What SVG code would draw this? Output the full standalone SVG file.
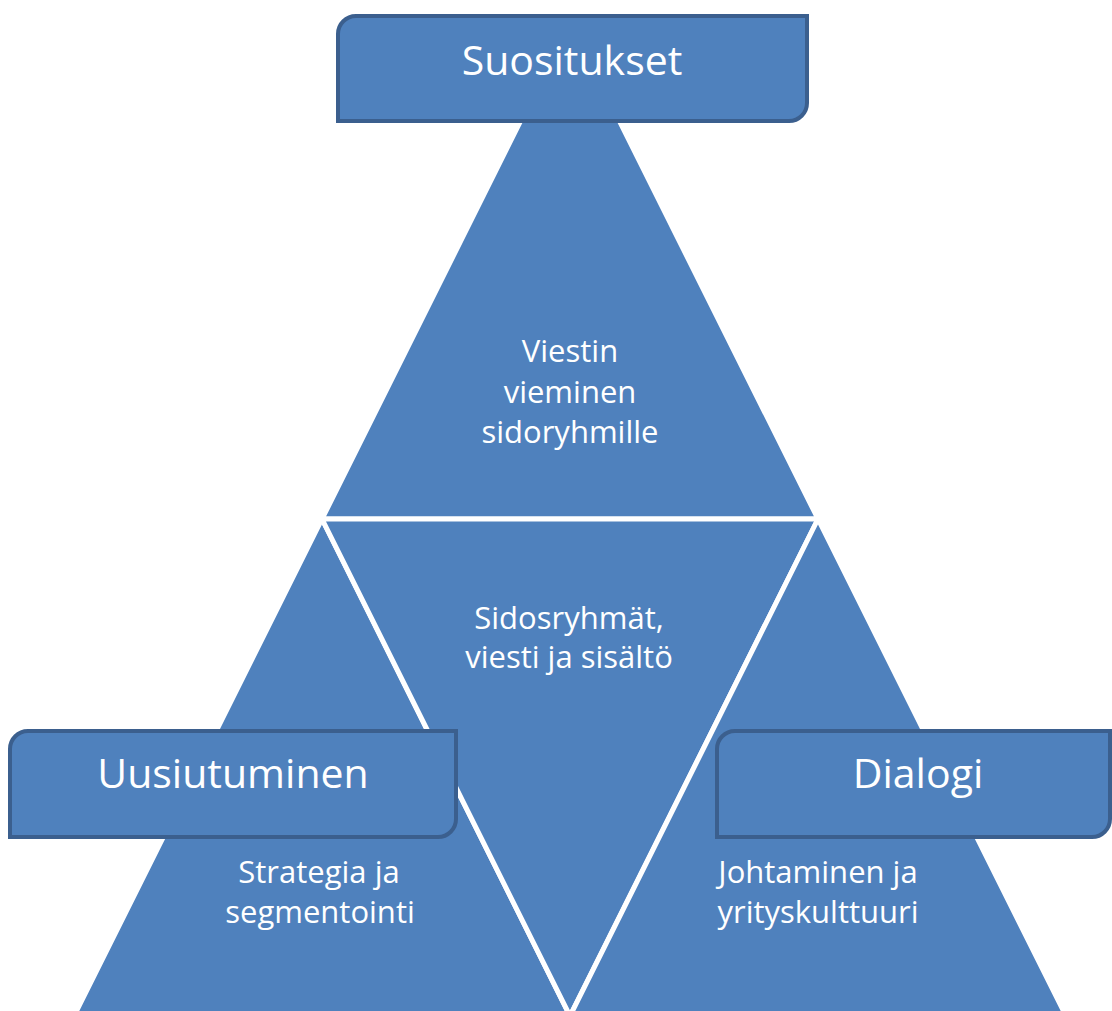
<svg xmlns="http://www.w3.org/2000/svg" width="1112" height="1011" viewBox="0 0 1112 1011">
<style>
.tri{fill:#4F81BD;stroke:#FFFFFF;stroke-width:5;stroke-linejoin:miter}
.box{fill:#4F81BD;stroke:#3B5F8E;stroke-width:4}
.big{font-family:"Open Sans","Noto Sans",sans-serif;font-size:41px;fill:#FFFFFF;text-anchor:middle}
.small{font-family:"Open Sans","Noto Sans",sans-serif;font-size:31px;fill:#FFFFFF;text-anchor:middle}
</style>
<rect width="1112" height="1011" fill="#FFFFFF"/>
<g id="triangles">
<g id="tri-top"><polygon class="tri" points="570,22 322,519 818,519"/>
<text class="small"><tspan x="570" y="362">Viestin</tspan><tspan x="570" y="403">vieminen</tspan><tspan x="570" y="443">sidoryhmille</tspan></text></g>
<g id="tri-left"><polygon class="tri" points="322,519 74,1016 570,1016"/>
<text class="small"><tspan x="319" y="883">Strategia ja</tspan><tspan x="320" y="923">segmentointi</tspan></text></g>
<g id="tri-mid"><polygon class="tri" points="322,519 818,519 570,1016"/>
<text class="small"><tspan x="569" y="629">Sidosryhmät,</tspan><tspan x="569" y="668">viesti ja sisältö</tspan></text></g>
<g id="tri-right"><polygon class="tri" points="818,519 570,1016 1066,1016"/>
<text class="small"><tspan x="818" y="883">Johtaminen ja</tspan><tspan x="818" y="923">yrityskulttuuri</tspan></text></g>
</g>
<g id="connectors"></g>
<g id="box-top"><path class="box" d="M356,16 H807 V103 A18,18 0 0 1 789,121 H338 V34 A18,18 0 0 1 356,16 Z"/>
<text class="big" x="572" y="75">Suositukset</text></g>
<g id="box-left"><path class="box" d="M28,731 H456 V819 A18,18 0 0 1 438,837 H10 V749 A18,18 0 0 1 28,731 Z"/>
<text class="big" x="233" y="788">Uusiutuminen</text></g>
<g id="box-right"><path class="box" d="M735,731 H1110 V819 A18,18 0 0 1 1092,837 H717 V749 A18,18 0 0 1 735,731 Z"/>
<text class="big" x="918" y="788">Dialogi</text></g>
</svg>
